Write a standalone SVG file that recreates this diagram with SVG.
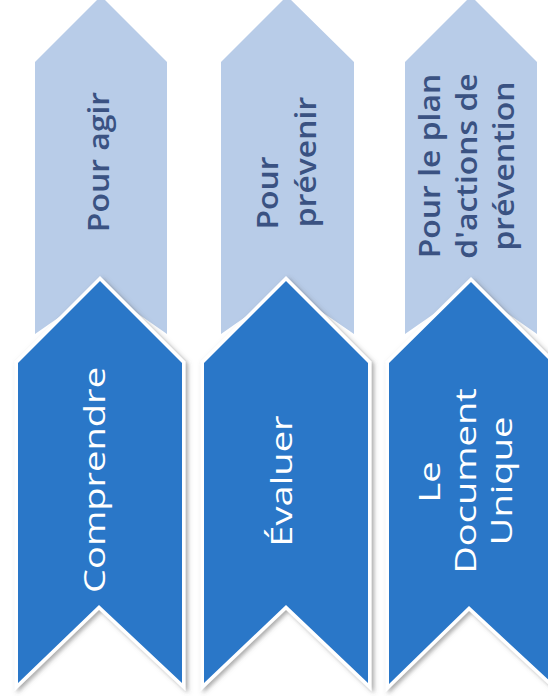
<svg xmlns="http://www.w3.org/2000/svg" width="548" height="696" viewBox="0 0 548 696">
<defs>
<filter id="sh" x="-10%" y="-10%" width="130%" height="130%">
<feDropShadow dx="2.5" dy="2" stdDeviation="2" flood-color="#555" flood-opacity="0.5"/>
</filter>
</defs>
<style>
.light{fill:#b8cce8}
.dark{fill:#2a77c8;stroke:#fff;stroke-width:7;stroke-linejoin:miter;paint-order:stroke;filter:url(#sh)}
.lt{font-family:"Open Sans","Noto Sans",sans-serif;font-size:28px;font-weight:600;fill:#3a5282;text-anchor:middle}
.dt{font-family:"Open Sans","Noto Sans",sans-serif;font-size:30px;fill:#fff;text-anchor:middle}
</style>
<rect width="548" height="696" fill="#fff"/>
<g id="light-1">
<polygon class="light" points="35,62 101,-4 167,62 167,334 101,288 35,334"/>
<text class="lt" transform="translate(109,162) rotate(-90) scale(1.14,1)">Pour agir</text>
</g>
<g id="light-2">
<polygon class="light" points="221,62 287,-4 354,62 354,334 287,288 221,334"/>
<text class="lt" transform="translate(278,193) rotate(-90) scale(1.14,1)">Pour</text>
<text class="lt" transform="translate(316,162) rotate(-90) scale(1.14,1)">prévenir</text>
</g>
<g id="light-3">
<polygon class="light" points="405,62 471,-4 537,62 537,334 471,288 405,334"/>
<text class="lt" transform="translate(440,166) rotate(-90) scale(1.14,1)">Pour le plan</text>
<text class="lt" transform="translate(477,166) rotate(-90) scale(1.14,1)">d'actions de</text>
<text class="lt" transform="translate(514,166) rotate(-90) scale(1.14,1)">prévention</text>
</g>
<g id="dark-1">
<polygon class="dark" points="18,363 100,281 182,363 182,683 99,605 18,683"/>
<text class="dt" transform="translate(105,480) rotate(-90) scale(1.27,1)">Comprendre</text>
</g>
<g id="dark-2">
<polygon class="dark" points="204,363 286,281 368,363 368,683 286,605 204,683"/>
<text class="dt" transform="translate(292,481) rotate(-90) scale(1.27,1)">Évaluer</text>
</g>
<g id="dark-3">
<polygon class="dark" points="389,363 471,282 553,364 553,684 469,606 389,684"/>
<text class="dt" transform="translate(440,482) rotate(-90) scale(1.27,1)">Le</text>
<text class="dt" transform="translate(476,481) rotate(-90) scale(1.27,1)">Document</text>
<text class="dt" transform="translate(512,481) rotate(-90) scale(1.27,1)">Unique</text>
</g>
<g id="connectors"/>
</svg>
